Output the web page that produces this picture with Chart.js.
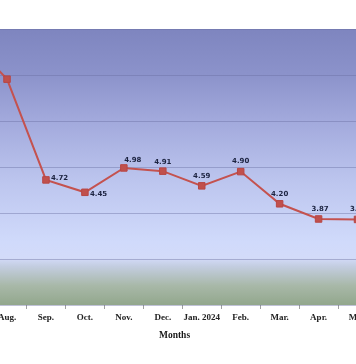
<!DOCTYPE html>
<html>
<head>
<meta charset="utf-8">
<script src="https://cdn.jsdelivr.net/npm/chart.js@4/dist/chart.umd.min.js"></script>
<style>
  html, body { margin: 0; padding: 0; background: #ffffff; width: 356px; height: 364px; overflow: hidden; }
  #wrap { position: absolute; left: -57px; top: 0; width: 463px; height: 364px; }
</style>
</head>
<body>
<div id="wrap"><canvas id="c"></canvas></div>
<script>
// ---- data ----
const categories = ['Jul. 2023', 'Aug.', 'Sep.', 'Oct.', 'Nov.', 'Dec.', 'Jan. 2024', 'Feb.', 'Mar.', 'Apr.', 'May'];
const rates = [7.80, 6.91, 4.72, 4.45, 4.98, 4.91, 4.59, 4.90, 4.20, 3.87, 3.86];
const yTicks = [2, 3, 4, 5, 6, 7, 8];
const xTitle = 'Months';

// label placement (styling only): [dx, dy, align]
const labelPlacement = [
  [-12, 0, 'right'], [-12, 0, 'right'],
  [5, -2, 'left'], [5, 2, 'left'],
  [9, -8, 'center'], [0, -9, 'center'], [0, -10, 'center'], [0, -10, 'center'],
  [0, -10, 'center'], [1.5, -10, 'center'], [1, -10, 'center']
];

const bgPlugin = {
  id: 'plotBg',
  beforeDraw(chart) {
    const {ctx, chartArea: a} = chart;
    const g = ctx.createLinearGradient(0, a.top, 0, a.bottom);
    g.addColorStop(0.00, '#7e85bf');
    g.addColorStop(0.17, '#8c93cb');
    g.addColorStop(0.33, '#a2a9dc');
    g.addColorStop(0.55, '#bcc5ee');
    g.addColorStop(0.77, '#d0dafb');
    g.addColorStop(0.83, '#d3dbf9');
    g.addColorStop(0.86, '#c3cde0');
    g.addColorStop(0.93, '#a8b8a8');
    g.addColorStop(1.00, '#92a78c');
    ctx.save();
    ctx.fillStyle = g;
    ctx.fillRect(a.left, a.top, a.right - a.left, a.bottom - a.top);
    ctx.restore();
  }
};

const labelPlugin = {
  id: 'valueLabels',
  afterDatasetsDraw(chart) {
    const {ctx} = chart;
    const meta = chart.getDatasetMeta(0);
    ctx.save();
    ctx.font = 'bold 7px "DejaVu Sans", Verdana, sans-serif';
    ctx.fillStyle = '#1c2340';
    ctx.textBaseline = 'middle';
    meta.data.forEach((pt, i) => {
      const p = labelPlacement[i] || [0, -10, 'center'];
      ctx.textAlign = p[2];
      ctx.fillText(rates[i].toFixed(2), pt.x + p[0], pt.y + p[1]);
    });
    ctx.restore();
  }
};

new Chart(document.getElementById('c'), {
  type: 'line',
  data: {
    labels: categories,
    datasets: [{
      data: rates,
      borderColor: '#c4524f',
      borderWidth: 2,
      backgroundColor: '#c0504d',
      pointStyle: 'rect',
      pointRadius: 4.6,
      pointBorderWidth: 1,
      pointBorderColor: '#b84644',
      pointBackgroundColor: '#c0504d',
      tension: 0,
      fill: false
    }]
  },
  options: {
    responsive: true,
    maintainAspectRatio: false,
    devicePixelRatio: 1,
    animation: false,
    layout: { padding: { top: 29, left: 0, right: 0, bottom: 0 } },
    plugins: {
      legend: { display: false },
      tooltip: { enabled: false },
      title: {
        display: true,
        text: xTitle,
        position: 'bottom',
        color: '#1a1a1a',
        font: { family: '"Liberation Serif", "Times New Roman", serif', size: 9.5, weight: 'bold', lineHeight: 1.2 },
        padding: { top: 0, bottom: 22.3 }
      }
    },
    scales: {
      x: {
        type: 'category',
        offset: true,
        afterFit(s) { s.height = 25.3; },
        grid: { display: true, offset: true, drawOnChartArea: false, drawTicks: true, tickLength: 4, color: '#a0a0a0' },
        border: { display: false },
        ticks: {
          autoSkip: false, maxRotation: 0, minRotation: 0, padding: 3,
          color: '#222222',
          font: { family: '"Liberation Serif", "Times New Roman", serif', size: 9, weight: 'bold' }
        }
      },
      y: {
        position: 'right',
        min: yTicks[0],
        max: yTicks[yTicks.length - 1],
        afterFit(s) { s.width = 29; },
        afterBuildTicks(s) { s.ticks = yTicks.map(v => ({ value: v })); },
        grid: { color: 'rgba(105,110,160,0.42)', lineWidth: 1, drawTicks: false },
        border: { display: false },
        ticks: { display: false }
      }
    }
  },
  plugins: [bgPlugin, labelPlugin]
});
</script>
</body>
</html>
